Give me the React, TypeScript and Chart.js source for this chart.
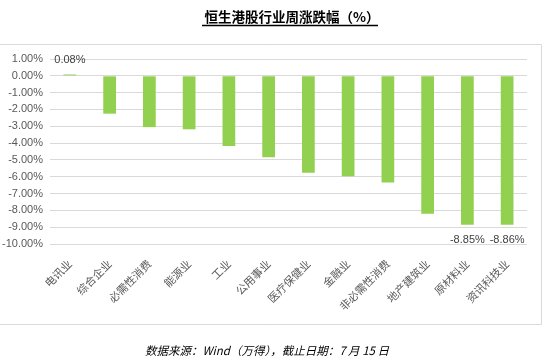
import React, { useEffect, useRef } from "react";
import { Chart, registerables } from "chart.js";

Chart.register(...registerables);

const categories = ["电讯业", "综合企业", "必需性消费", "能源业", "工业", "公用事业", "医疗保健业", "金融业", "非必需性消费", "地产建筑业", "原材料业", "资讯科技业"];
const values = [0.08, -2.25, -3.05, -3.18, -4.18, -4.84, -5.77, -5.97, -6.35, -8.2, -8.85, -8.86];
const labeledIndices = [0, 10, 11];
const titleText = "恒生港股行业周涨跌幅（%）";
const footerText = "数据来源：Wind（万得），截止日期：7 月 15 日";

const CJK = '"Noto Sans CJK SC", "Noto Sans", sans-serif';

const decorPlugin = {
  id: "decor",
  afterDraw(chart: any) {
    const ctx = chart.ctx;
    ctx.save();
    // frame
    ctx.strokeStyle = "#d9d9d9";
    ctx.lineWidth = 1;
    ctx.beginPath();
    ctx.moveTo(0, 44.5);
    ctx.lineTo(541.5, 44.5);
    ctx.lineTo(541.5, 324.5);
    ctx.lineTo(0, 324.5);
    ctx.stroke();
    // title
    ctx.fillStyle = "#000";
    ctx.font = `bold 13.5px ${CJK}`;
    ctx.textAlign = "center";
    ctx.textBaseline = "middle";
    ctx.fillText(titleText, 292, 17);
    ctx.strokeStyle = "#000";
    ctx.lineWidth = 1.5;
    ctx.beginPath();
    ctx.moveTo(202, 25.5);
    ctx.lineTo(378, 25.5);
    ctx.stroke();
    // footer
    ctx.font = `italic 11.5px ${CJK}`;
    ctx.fillStyle = "#000";
    ctx.fillText(footerText, 267, 351);
    // data labels
    const meta = chart.getDatasetMeta(0);
    ctx.font = `11px "Liberation Sans", Arial, sans-serif`;
    ctx.fillStyle = "#404040";
    labeledIndices.forEach((i) => {
      const el = meta.data[i];
      const v = values[i];
      const y = v >= 0 ? el.y - 15 : el.y + 15;
      ctx.fillText(v.toFixed(2) + "%", el.x, y);
    });
    ctx.restore();
  },
};

export default function App() {
  const ref = useRef<HTMLCanvasElement>(null);
  useEffect(() => {
    const chart = new Chart(ref.current!, {
      type: "bar",
      data: {
        labels: categories,
        datasets: [
          {
            data: values,
            backgroundColor: "#92D050",
            barPercentage: 0.32,
            categoryPercentage: 1,
          },
        ],
      },
      options: {
        animation: false,
        responsive: false,
        maintainAspectRatio: false,
        layout: { padding: { top: 59, right: 23, bottom: 0, left: 0 } },
        plugins: { legend: { display: false }, tooltip: { enabled: false }, title: { display: false } },
        scales: {
          x: {
            grid: { display: false },
            border: { display: false },
            ticks: {
              minRotation: 45,
              maxRotation: 45,
              autoSkip: false,
              color: "#595959",
              font: { size: 11, family: CJK },
              padding: 5,
            },
            afterFit(scale: any) {
              scale.height = 114;
            },
          },
          y: {
            min: -10,
            max: 1,
            grid: { color: "#d9d9d9", drawTicks: false },
            border: { display: false },
            ticks: {
              stepSize: 1,
              color: "#595959",
              padding: 7,
              font: { size: 11, family: '"Liberation Sans", Arial, sans-serif' },
              callback: (v: any) => Number(v).toFixed(2) + "%",
            },
            afterFit(scale: any) {
              scale.width = 50;
            },
          },
        },
      },
      plugins: [decorPlugin],
    });
    return () => chart.destroy();
  }, []);
  return (
    <div style={{ position: "fixed", left: 0, top: 0, width: 550, height: 358, background: "#fff" }}>
      <canvas ref={ref} width={550} height={358} style={{ width: 550, height: 358 }} />
    </div>
  );
}
